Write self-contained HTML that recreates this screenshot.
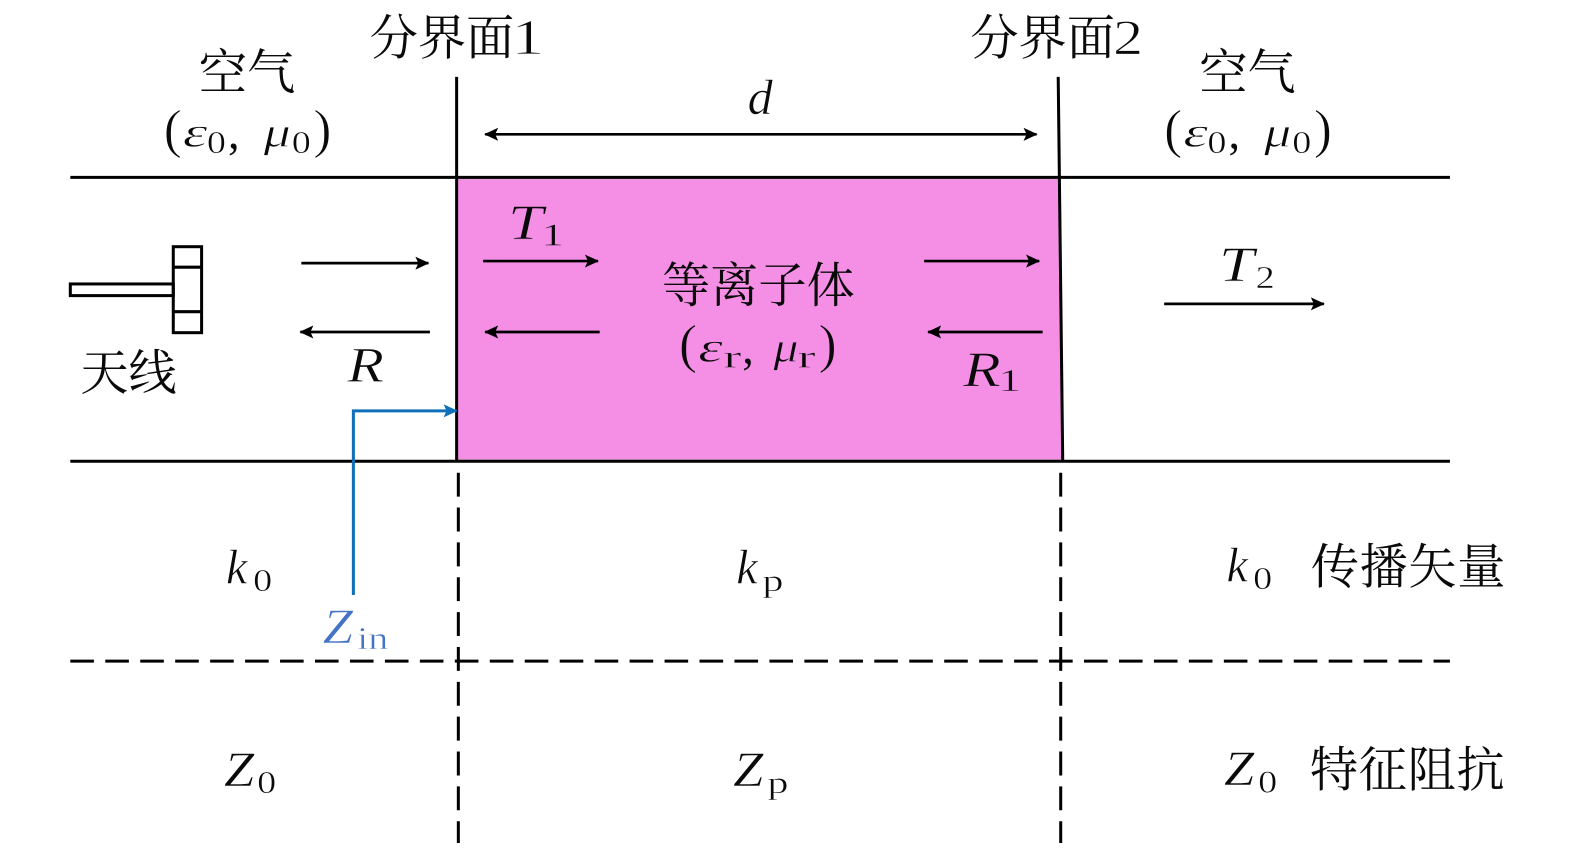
<!DOCTYPE html>
<html><head><meta charset="utf-8">
<style>
html,body{margin:0;padding:0;background:#fff;width:1575px;height:856px;overflow:hidden}
svg{display:block}
text{fill:#0a0a0a}
.c{font-family:"Noto Serif CJK SC","Liberation Serif",serif;font-size:48px}
.m{font-family:"Liberation Serif",serif;font-style:italic;font-size:50px;stroke:#fff;stroke-width:.6px}
.g{font-family:"Liberation Serif",serif;font-style:italic;font-size:42px;stroke:#fff;stroke-width:.7px}
.r{font-family:"Liberation Serif",serif;font-size:32px;stroke:#fff;stroke-width:.5px}
.p{font-family:"Liberation Serif",serif;font-size:54px;stroke:#fff;stroke-width:.7px}
.n{font-family:"Liberation Serif",serif;font-size:50px;stroke:#fff;stroke-width:.8px}
.q{font-family:"Liberation Serif",serif;font-size:46px}
.i text{stroke:#F58FE6}
</style></head><body>
<svg width="1575" height="856" viewBox="0 0 1568 852.2" xmlns="http://www.w3.org/2000/svg">
<defs>
<marker id="a" markerWidth="14" markerHeight="13" refX="13" refY="6.500" orient="auto-start-reverse" markerUnits="userSpaceOnUse"><path d="M0 0L14 6.500L0 13L3 6.500Z" fill="#000"/></marker>
<marker id="b" markerWidth="14" markerHeight="13" refX="13" refY="6.500" orient="auto" markerUnits="userSpaceOnUse"><path d="M0 0L14 6.500L0 13L3 6.500Z" fill="#0F6FB8"/></marker>
</defs>
<polygon points="455,178 1055,178 1057.500,458 455,458" fill="#F58FE6" stroke="#CDB0C8" stroke-width="1.500"/>
<g stroke="#000" stroke-width="3" fill="none">
<line x1="70" y1="176.600" x2="1443.500" y2="176.600"/>
<line x1="70" y1="459.200" x2="1443.500" y2="459.200"/>
<line x1="454.600" y1="76.500" x2="454.600" y2="459"/>
<line x1="1053.500" y1="76.500" x2="1058" y2="459"/>
<line x1="456.300" y1="470.600" x2="456.300" y2="839.300" stroke-dasharray="23.800 10.900"/>
<line x1="1056" y1="470.600" x2="1056" y2="839.300" stroke-dasharray="23.800 10.900"/>
<line x1="70" y1="658.200" x2="1443.500" y2="658.200" stroke-dasharray="23.500 11.300"/>
<rect x="70" y="282.700" width="102.500" height="11.600"/>
<rect x="172.500" y="245.600" width="28.200" height="85.600"/>
<line x1="172.500" y1="266" x2="200.700" y2="266"/>
<line x1="172.500" y1="310.300" x2="200.700" y2="310.300"/>
<g stroke-width="2.700">
<line x1="483" y1="133.700" x2="1032" y2="133.700" marker-start="url(#a)" marker-end="url(#a)"/>
<line x1="300" y1="262" x2="426.500" y2="262" marker-end="url(#a)"/>
<line x1="428" y1="330.500" x2="299" y2="330.500" marker-end="url(#a)"/>
<line x1="481" y1="259.900" x2="595.300" y2="259.900" marker-end="url(#a)"/>
<line x1="597" y1="330.500" x2="483" y2="330.500" marker-end="url(#a)"/>
<line x1="920" y1="259.900" x2="1034.500" y2="259.900" marker-end="url(#a)"/>
<line x1="1038" y1="330.500" x2="924" y2="330.500" marker-end="url(#a)"/>
<line x1="1159" y1="302.500" x2="1318" y2="302.500" marker-end="url(#a)"/>
</g>
</g>
<path d="M351.800 592.400V409H454.600" fill="none" stroke="#0F6FB8" stroke-width="3" marker-end="url(#b)"/>

<text class="c" x="368" y="54">分界面</text><text class="n" x="509" y="54" textLength="33" lengthAdjust="spacingAndGlyphs">1</text>
<text class="c" x="966" y="54">分界面</text><text class="n" x="1108" y="54" textLength="30" lengthAdjust="spacingAndGlyphs">2</text>
<text class="c" x="198" y="88.500">空气</text>
<text class="c" x="1194" y="88.500">空气</text>
<text class="c" x="80" y="388">天线</text>
<text class="c" x="659" y="300.500">等离子体</text>
<text class="c" x="1305" y="581" style="letter-spacing:.6px">传播矢量</text>
<text class="c" x="1304" y="783" style="letter-spacing:.7px">特征阻抗</text>

<text class="p" x="163" y="146.500">(</text><text class="g" x="182" y="146" textLength="24.600" lengthAdjust="spacingAndGlyphs">ε</text><text class="r" x="206" y="152.500" textLength="19" lengthAdjust="spacingAndGlyphs">0</text><text class="q" x="227" y="148">,</text><text class="g" x="262.500" y="146" textLength="27" lengthAdjust="spacingAndGlyphs">μ</text><text class="r" x="290.500" y="152.500" textLength="19" lengthAdjust="spacingAndGlyphs">0</text><text class="p" x="312" y="146.500">)</text>
<text class="p" x="1159" y="146.500">(</text><text class="g" x="1178" y="146" textLength="24.600" lengthAdjust="spacingAndGlyphs">ε</text><text class="r" x="1202" y="152.500" textLength="19" lengthAdjust="spacingAndGlyphs">0</text><text class="q" x="1223" y="148">,</text><text class="g" x="1258.500" y="146" textLength="27" lengthAdjust="spacingAndGlyphs">μ</text><text class="r" x="1286.500" y="152.500" textLength="19" lengthAdjust="spacingAndGlyphs">0</text><text class="p" x="1308" y="146.500">)</text>
<g class="i">
<text class="p" x="676" y="360.500">(</text><text class="g" x="695" y="360" textLength="24.600" lengthAdjust="spacingAndGlyphs">ε</text><text class="r" x="720" y="366" textLength="18" lengthAdjust="spacingAndGlyphs">r</text><text class="q" x="739" y="362" style="stroke:none">,</text><text class="g" x="770" y="360" textLength="25" lengthAdjust="spacingAndGlyphs">μ</text><text class="r" x="794" y="366" textLength="18" lengthAdjust="spacingAndGlyphs">r</text><text class="p" x="815" y="360.500">)</text>
<text class="m" x="505.700" y="238" textLength="35" lengthAdjust="spacingAndGlyphs">T</text><text class="r" x="538.400" y="244.600" textLength="23.700" lengthAdjust="spacingAndGlyphs">1</text>
<text class="m" x="958.800" y="384.500" textLength="37.400" lengthAdjust="spacingAndGlyphs">R</text><text class="r" x="993.500" y="389.400" textLength="23.700" lengthAdjust="spacingAndGlyphs">1</text>
</g>

<text class="m" x="744.300" y="113.500">d</text>
<text class="m" x="1213.500" y="280" textLength="35" lengthAdjust="spacingAndGlyphs">T</text><text class="r" x="1250" y="286.500" textLength="19" lengthAdjust="spacingAndGlyphs">2</text>
<text class="m" x="345.800" y="380" textLength="36.400" lengthAdjust="spacingAndGlyphs">R</text>
<text class="m" x="225" y="580.700" style="font-size:48px">k</text><text class="r" x="252" y="588.500" textLength="19" lengthAdjust="spacingAndGlyphs">0</text>
<text class="m" x="733" y="580.700" style="font-size:48px">k</text><text class="r" x="759" y="588.500" textLength="21" lengthAdjust="spacingAndGlyphs">p</text>
<text class="m" x="1221" y="579" style="font-size:48px">k</text><text class="r" x="1247.600" y="586.400" textLength="19" lengthAdjust="spacingAndGlyphs">0</text>
<text class="m" x="222.900" y="782.500" textLength="30.300" lengthAdjust="spacingAndGlyphs">Z</text><text class="r" x="256" y="789.600" textLength="19" lengthAdjust="spacingAndGlyphs">0</text>
<text class="m" x="729.700" y="782.500" textLength="30.300" lengthAdjust="spacingAndGlyphs">Z</text><text class="r" x="764" y="789.600" textLength="21" lengthAdjust="spacingAndGlyphs">p</text>
<text class="m" x="1218.500" y="781.600" textLength="30.300" lengthAdjust="spacingAndGlyphs">Z</text><text class="r" x="1252.500" y="789" textLength="19" lengthAdjust="spacingAndGlyphs">0</text>
<text class="m" x="321.200" y="640" textLength="30.300" lengthAdjust="spacingAndGlyphs" style="fill:#4472C4">Z</text><text class="r" x="355.500" y="646" textLength="31" lengthAdjust="spacingAndGlyphs" style="fill:#4472C4">in</text>
</svg>
</body></html>
